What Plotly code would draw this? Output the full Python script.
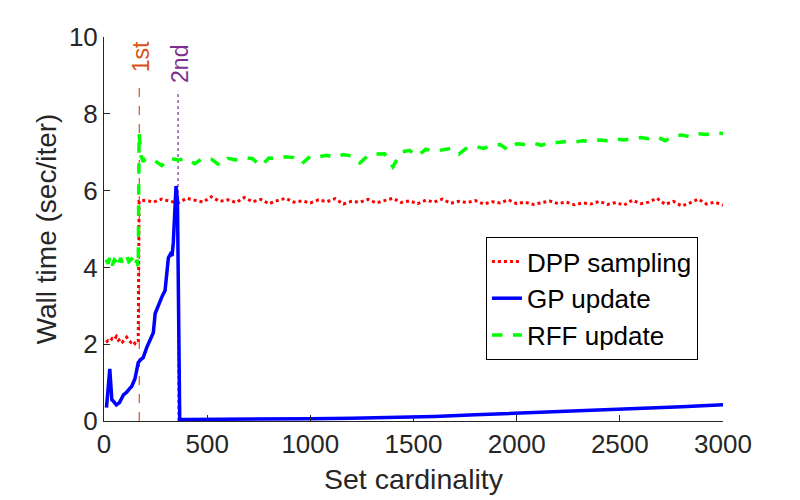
import plotly.graph_objects as go

# ---- data ----
dpp_x = [10, 20, 30, 40, 50, 60, 70, 80, 90, 100, 110, 120, 130, 140, 150, 160, 166, 170] + list(range(200, 3001, 40))
dpp_y = [2.05, 2.10, 2.08, 2.15, 2.12, 2.20, 2.10, 2.14, 2.06, 2.12, 2.18, 2.10, 2.05, 2.09, 2.02, 2.10, 2.08, 5.72,
         5.75, 5.70, 5.78, 5.72, 5.68, 5.80, 5.74, 5.70, 5.84, 5.72,
         5.76, 5.69, 5.82, 5.71, 5.77, 5.66, 5.74, 5.80, 5.70, 5.73,
         5.68, 5.76, 5.71, 5.79, 5.65, 5.72, 5.70, 5.77, 5.68, 5.74,
         5.80, 5.69, 5.73, 5.66, 5.75, 5.70, 5.78, 5.67, 5.72, 5.69,
         5.74, 5.65, 5.71, 5.68, 5.76, 5.66, 5.70, 5.64, 5.69, 5.73,
         5.66, 5.70, 5.63, 5.68, 5.65, 5.72, 5.64, 5.69, 5.62, 5.75,
         5.66, 5.70, 5.80, 5.64, 5.72, 5.60, 5.68, 5.78, 5.65, 5.70, 5.62]

gp_x = [12, 28, 38, 45, 60, 75, 94, 110, 125, 134, 150, 166, 178, 190, 207, 222, 239, 248, 258, 270,
        282, 296, 305, 312, 322, 330, 336, 342, 349, 356, 362, 367, 400, 600, 800, 1000, 1200, 1400,
        1600, 1800, 2000, 2200, 2400, 2500, 2600, 2800, 3000]
gp_y = [0.35, 1.36, 0.55, 0.52, 0.42, 0.48, 0.68, 0.75, 0.85, 0.90, 1.10, 1.52, 1.60, 1.65, 1.91, 2.10, 2.30, 2.80, 2.95, 3.10,
        3.25, 3.40, 3.90, 4.25, 4.35, 4.30, 4.65, 5.20, 6.12, 5.75, 2.50, 0.04, 0.04, 0.04, 0.05, 0.06, 0.07, 0.09,
        0.12, 0.16, 0.20, 0.23, 0.27, 0.30, 0.32, 0.37, 0.42]

rff_x = [10, 20, 30, 40, 50, 60, 70, 80, 90, 100, 110, 120, 130, 140, 150, 160, 166, 170, 180, 190] + list(range(200, 3001, 40))
rff_y = [4.20, 4.10, 4.30, 4.05, 4.20, 4.15, 4.00, 4.25, 4.10, 4.20, 4.30, 4.15, 4.20, 4.25, 4.05, 4.20, 4.00, 7.50, 6.90, 6.75,
         6.82, 6.80, 6.65, 6.84, 6.80, 6.83, 6.70, 6.85, 6.82, 6.66,
         6.84, 6.80, 6.86, 6.83, 6.64, 6.85, 6.84, 6.88, 6.86, 6.70,
         6.90, 6.88, 6.92, 6.86, 6.94, 6.90, 6.72, 6.92, 6.95, 6.96,
         6.62, 7.00, 7.05, 6.90, 7.08, 7.02, 7.06, 7.10, 6.95, 7.12,
         7.15, 7.10, 7.18, 7.20, 7.05, 7.22, 7.20, 7.24, 7.18, 7.26,
         7.25, 7.28, 7.26, 7.30, 7.28, 7.32, 7.30, 7.34, 7.32, 7.36,
         7.38, 7.35, 7.40, 7.30, 7.42, 7.45, 7.40, 7.48, 7.46, 7.50, 7.49]

mark_x = [171, 359]
mark_top = [8.85, 8.6]
mark_labels = ["1st", "2nd"]
mark_colors = ["#D95319", "#7E2F8E"]
mark_dash = ["dash", "dot"]

FONT = "Liberation Sans, Arial, sans-serif"
INK = "#262626"

fig = go.Figure()

# the two markers first so the data lines sit on top
for mx, mt, mc, md in zip(mark_x, mark_top, mark_colors, mark_dash):
    fig.add_trace(go.Scatter(x=[mx, mx], y=[0, mt], mode="lines",
                             line=dict(color=mc, width=1.2, dash=md),
                             showlegend=False, hoverinfo="skip"))

fig.add_trace(go.Scatter(x=dpp_x, y=dpp_y, mode="lines", name="DPP sampling",
                         line=dict(color="#FF0000", width=3, dash="dot")))
fig.add_trace(go.Scatter(x=gp_x, y=gp_y, mode="lines", name="GP update",
                         line=dict(color="#0000FF", width=3.5)))
fig.add_trace(go.Scatter(x=rff_x, y=rff_y, mode="lines", name="RFF update",
                         line=dict(color="#00FF00", width=3.5, dash="dash")))

# label centres (rotated text), just above each marker line
label_mid = [9.48, 9.30]
for mx, my, lab, mc in zip(mark_x, label_mid, mark_labels, mark_colors):
    fig.add_annotation(x=mx, y=my, xref="x", yref="y", text=lab, showarrow=False,
                       textangle=-90, xanchor="center", yanchor="middle", xshift=2,
                       font=dict(family=FONT, size=23, color=mc))

# page body adds an 8px offset, margins compensate
fig.update_layout(
    width=800, height=500,
    margin=dict(l=96, r=85, t=29, b=87),
    paper_bgcolor="white", plot_bgcolor="white",
    font=dict(family=FONT, color=INK),
    legend=dict(x=0.617, y=0.319, xanchor="left", yanchor="middle",
                bordercolor="#000000", borderwidth=1, bgcolor="white",
                font=dict(size=26, color="#000000"), tracegroupgap=0),
)
fig.update_xaxes(range=[0, 3000], tickvals=[0, 500, 1000, 1500, 2000, 2500, 3000],
                 showline=True, linecolor=INK, linewidth=1, ticks="inside", ticklen=6,
                 tickcolor=INK, showgrid=False, zeroline=False,
                 tickfont=dict(size=26, color=INK),
                 title=dict(text="Set cardinality", font=dict(size=28.5, color=INK), standoff=10))
fig.update_yaxes(range=[0, 10], tickvals=[0, 2, 4, 6, 8, 10],
                 showline=True, linecolor=INK, linewidth=1, ticks="inside", ticklen=6,
                 tickcolor=INK, showgrid=False, zeroline=False,
                 tickfont=dict(size=26, color=INK),
                 title=dict(text="Wall time (sec/iter)", font=dict(size=28, color=INK), standoff=4))

fig.write_html("out.html")
